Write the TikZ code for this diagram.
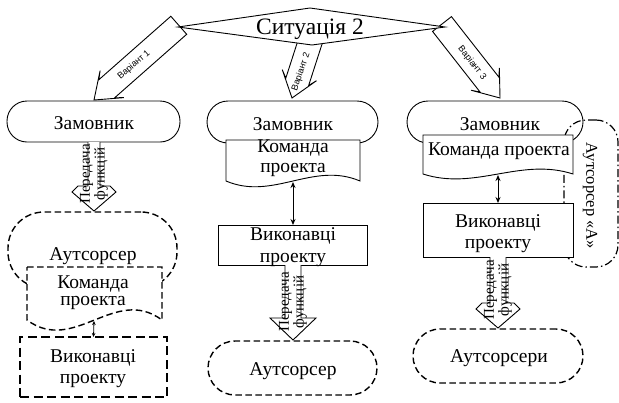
\documentclass[tikz,border=0pt]{standalone}
\usepackage{fontspec}
\setmainfont{Liberation Serif}
\newfontfamily\serifm{Liberation Serif}
\newfontfamily\sansf{Liberation Sans}
\usetikzlibrary{arrows.meta}
\begin{document}
\begin{tikzpicture}[x=1pt,y=-1pt,
  every node/.style={inner sep=0pt,outer sep=0pt},
  shp/.style={draw,line width=0.9pt,fill=white},
  stad/.style={shp,rectangle,rounded corners=#1},
  dsh/.style={dash pattern=on 6.5pt off 3.5pt,line width=1.4pt},
  dshthick/.style={dash pattern=on 9pt off 4.5pt,line width=2.2pt},
  dashdot/.style={dash pattern=on 8pt off 3pt on 1.5pt off 3pt,line width=1.2pt},
  txt/.style={anchor=base,font=\serifm\fontsize{19.5}{21}\selectfont},
  ptxt/.style={rotate=90,align=center,font=\serifm\fontsize{15}{12}\selectfont},
  vtxt/.style={font=\sansf\fontsize{9}{10}\selectfont},
  dbl/.style={{Stealth[length=6pt,width=5pt]}-{Stealth[length=6pt,width=5pt]},line width=1pt},
  dblsmall/.style={{Stealth[length=4pt,width=3.5pt]}-{Stealth[length=4pt,width=3.5pt]},line width=0.8pt}]
\useasboundingbox (0,0) rectangle (619,402);

% --- variant arrows (tails hidden behind the diamond)
\begin{scope}[shift={(94,100)},rotate=41.4]
  \draw[shp] (113,12) -- (17,12) -- (24,18) -- (0,0) -- (24,-18) -- (17,-12) -- (113,-12) -- cycle;
\end{scope}
\begin{scope}[shift={(292,98)},rotate=72.1]
  \draw[shp] (66,12) -- (17,12) -- (24,18) -- (0,0) -- (24,-18) -- (17,-12) -- (66,-12) -- cycle;
\end{scope}
\begin{scope}[shift={(500,98)},rotate=128.1]
  \draw[shp] (94,12) -- (17,12) -- (24,18) -- (0,0) -- (24,-18) -- (17,-12) -- (94,-12) -- cycle;
\end{scope}

% --- situation diamond
\draw[shp] (178,27) -- (310,8) -- (445,27) -- (312,45) -- cycle;
\node[anchor=base,font=\serifm\fontsize{23.5}{25}\selectfont] (sit) at (310,34) {Ситуація 2};

\node[vtxt,rotate=41] (v1) at (134,65) {Варіант 1};
\node[vtxt,rotate=71] (v2) at (301,72) {Варіант 2};
\node[vtxt,rotate=-52] (v3) at (472,63) {Варіант 3};

% --- customers
\node[stad=20pt,minimum width=173pt,minimum height=41pt] (zam1) at (93.5,121.5) {};
\node[stad=21pt,minimum width=171pt,minimum height=42pt] (zam2) at (292.5,122) {};
\node[stad=21pt,minimum width=176pt,minimum height=42pt] (zam3) at (495,122) {};

% --- outsourcer A (dash-dot)
\node[draw,rectangle,rounded corners=22pt,dashdot,minimum width=54pt,minimum height=147pt] (outA) at (591,193.5) {};

% --- project teams (document shapes)
\draw[shp] (226,140) -- (360,140) -- (360,181) .. controls (313.1,161) and (272.9,201) .. (226,181) -- cycle;
\draw[shp] (423,135) -- (573,135) -- (573,174) .. controls (520.5,157) and (475.5,191) .. (423,174) -- cycle;

% --- executors
\node[shp,rectangle,minimum width=149pt,minimum height=40pt] (vyk2) at (293,245) {};
\node[shp,rectangle,minimum width=150pt,minimum height=54pt] (vyk3) at (498,230) {};

% --- texts
\node[txt] (tz1) at (94,129) {Замовник};
\node[txt] (tz2) at (293,130) {Замовник};
\node[txt] (tz3) at (500,130) {Замовник};
\node[txt] (tk2a) at (293,152) {Команда};
\node[txt] (tk2b) at (293,172) {проекта};
\node[txt] (tk3) at (499,155) {Команда проекта};
\node[txt] (tv2a) at (293,240) {Виконавці};
\node[txt] (tv2b) at (293,262) {проекту};
\node[txt] (tv3a) at (498,227) {Виконавці};
\node[txt] (tv3b) at (498,248) {проекту};
\node[rotate=-90,font=\serifm\fontsize{16.5}{18}\selectfont] (tA) at (590,196) {Аутсорсер «А»};

% --- double arrows
\coordinate (k2b) at (293,182);
\coordinate (k3b) at (498,175);
\draw[dbl] (k2b) -- (vyk2.north);
\draw[dbl] (k3b) -- (vyk3.north);

% --- "transfer of functions" arrows
\draw[shp] (88,142) -- (88,186) -- (78,186) -- (72,192) -- (94,211) -- (116,192) -- (110,186) -- (100,186) -- (100,142);
\draw[shp] (285,265) -- (285,318) -- (270,318) -- (293,340) -- (316,318) -- (301,318) -- (301,265);
\draw[shp] (490,257) -- (490,303) -- (482,303) -- (476,309) -- (498,328) -- (520,309) -- (514,303) -- (506,303) -- (506,257);
\node[ptxt] (p1) at (94,174) {Передача\\функцій};
\node[ptxt] (p2) at (293,302) {Передача\\функцій};
\node[ptxt] (p3) at (498,290) {Передача\\функцій};

% --- left column (outsourced)
\node[shp,rectangle,rounded corners=36pt,dsh,minimum width=169pt,minimum height=76pt] (out1) at (92.5,250) {};
\draw[shp,dsh] (27,267) -- (162,267) -- (162,320) .. controls (114.75,285) and (74.25,355) .. (27,320) -- cycle;
\node[shp,rectangle,dshthick,minimum width=147pt,minimum height=60pt] (vyk1) at (93.5,367) {};
\coordinate (k1b) at (94,321);
\draw[dblsmall] (k1b) -- (vyk1.north);
\node[txt] (to1) at (93,260) {Аутсорсер};
\node[txt] (tk1a) at (93,288) {Команда};
\node[txt] (tk1b) at (93,305) {проекта};
\node[txt] (tv1a) at (93,362) {Виконавці};
\node[txt] (tv1b) at (93,383) {проекту};

% --- bottom outsourcers
\node[shp,rectangle,rounded corners=27pt,dsh,minimum width=169pt,minimum height=54pt] (out2) at (292.5,368) {};
\node[shp,rectangle,rounded corners=27pt,dsh,minimum width=170pt,minimum height=54pt] (out3) at (498,356) {};
\node[txt] (to2) at (293,375) {Аутсорсер};
\node[txt] (to3) at (499,362) {Аутсорсери};
\end{tikzpicture}
\end{document}
